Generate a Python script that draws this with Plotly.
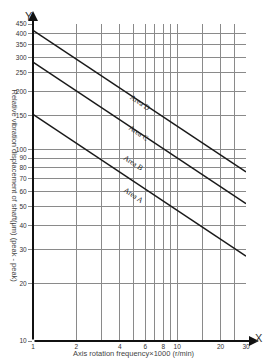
import plotly.graph_objects as go

# Data
speed = [1, 30]                       # x1000 r/min
boundary_AB = [152, 27.7]             # µm peak-peak
boundary_BC = [285, 52.0]
boundary_CD = [417, 76.2]

x_ticks = [1, 2, 3, 4, 5, 6, 7, 8, 9, 10, 15, 20, 25, 30]
x_text = ['1', '2', '', '4', '', '6', '', '8', '', '10', '', '20', '', '30']
y_ticks = [10, 20, 30, 40, 50, 60, 70, 80, 90, 100, 150, 200, 250, 300, 350, 400, 450]
y_text = [str(v) for v in y_ticks]

area_labels = ['Area D', 'Area C', 'Area B', 'Area A']

W, H = 263, 364
L, R, T, B = 33, 17, 24, 23
pw, ph = W - L - R, H - T - B

def px(xp):
    return (xp - L) / pw

def py(yp):
    return (H - B - yp) / ph

fig = go.Figure()
for ys in [boundary_AB, boundary_BC, boundary_CD]:
    fig.add_trace(go.Scatter(x=speed, y=ys, mode='lines',
                             line=dict(color='#1a1a1a', width=1.5),
                             showlegend=False, hoverinfo='skip'))

tickfont = dict(family='Liberation Sans, Arial', size=6.5, color='#333')
fig.update_xaxes(type='log', range=[0, 1.4771], tickvals=x_ticks, ticktext=x_text,
                 showgrid=True, gridcolor='#8a8a8a', gridwidth=1, zeroline=False,
                 showline=False, ticks='', tickfont=tickfont, ticklen=0)
fig.update_yaxes(type='log', range=[1, 2.6532], tickvals=y_ticks, ticktext=y_text,
                 showgrid=True, gridcolor='#8a8a8a', gridwidth=1, zeroline=False,
                 showline=False, ticks='outside', ticklen=4, tickcolor='#8a8a8a',
                 tickfont=tickfont)

annotations = []
# axis arrows
annotations.append(dict(x=px(33), y=py(11), xref='paper', yref='paper', text='',
                        showarrow=True, ax=0, ay=330, arrowhead=2, arrowsize=1,
                        arrowwidth=2, arrowcolor='#111'))
annotations.append(dict(x=px(259), y=py(341), xref='paper', yref='paper', text='',
                        showarrow=True, ax=-226, ay=0, arrowhead=2, arrowsize=1,
                        arrowwidth=2, arrowcolor='#111'))
annotations.append(dict(x=px(23), y=py(8), xref='paper', yref='paper', text='Y',
                        showarrow=False, font=dict(family='Liberation Sans, Arial', size=11, color='#333')))
annotations.append(dict(x=px(265), y=py(346), xref='paper', yref='paper', text='X',
                        showarrow=False, font=dict(family='Liberation Sans, Arial', size=11, color='#333')))
annotations.append(dict(x=px(134), y=py(360), xref='paper', yref='paper',
                        text='Axis rotation frequency×1000 (r/min)', showarrow=False,
                        font=dict(family='Liberation Sans, Arial', size=7.5, color='#444')))
annotations.append(dict(x=px(7), y=py(186), xref='paper', yref='paper',
                        text='Relative vibration displacement of shaft(μm) (peak - peak)',
                        showarrow=False, textangle=90,
                        font=dict(family='Liberation Sans, Arial', size=7.5, color='#444')))
label_pos = [(140, 90), (138, 120), (133, 162), (134, 195)]
for lab, (lx, ly) in zip(area_labels, label_pos):
    annotations.append(dict(x=px(lx), y=py(ly), xref='paper', yref='paper', text=lab,
                            showarrow=False, textangle=34,
                            font=dict(family='Liberation Serif, Times New Roman', size=7.5, color='#222')))

fig.update_layout(width=W, height=H, margin=dict(l=L, r=R, t=T, b=B),
                  paper_bgcolor='white', plot_bgcolor='white',
                  annotations=annotations, showlegend=False)

fig.write_html('out.html')
